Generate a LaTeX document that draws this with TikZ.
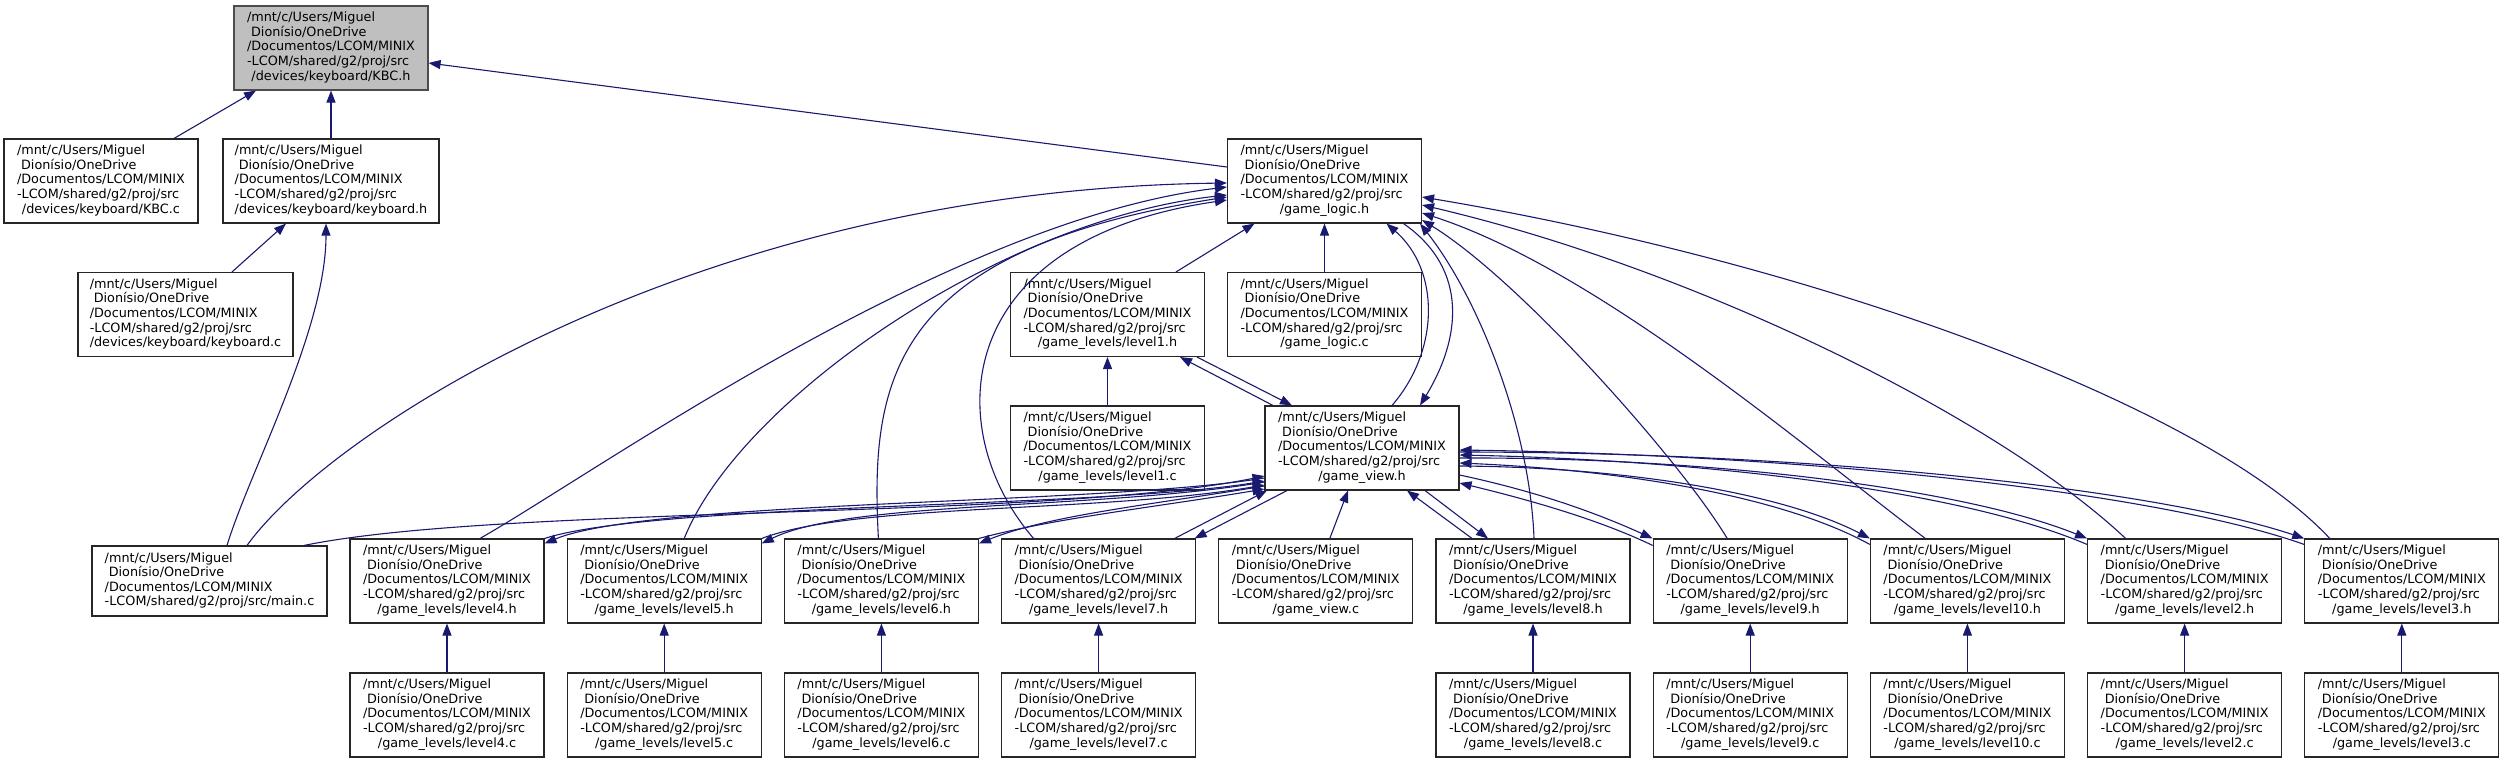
\documentclass[tikz,border=0pt]{standalone}
\usepackage{fontspec}
\setmainfont{DejaVu Sans}
\usetikzlibrary{arrows.meta}
\definecolor{edgec}{HTML}{191970}
\definecolor{rootfill}{HTML}{BFBFBF}
\newcommand{\flbl}[1]{\begin{tabular}{@{}l@{}}/mnt/c/Users/Miguel\\\ Dionísio/OneDrive\\/Documentos/LCOM/MINIX\\-LCOM/shared/g2/proj/src\\\multicolumn{1}{@{}c@{}}{#1}\end{tabular}}
\newcommand{\mlbl}{\begin{tabular}{@{}l@{}}/mnt/c/Users/Miguel\\\ Dionísio/OneDrive\\/Documentos/LCOM/MINIX\\\multicolumn{1}{@{}c@{}}{-LCOM/shared/g2/proj/src/main.c}\end{tabular}}
\begin{document}
\begin{tikzpicture}[x=1pt,y=-1pt,
  box/.style={draw=black!85, line width=1.1pt, fill=white, rectangle, inner sep=0pt,
    minimum width=194pt, minimum height=84pt, font=\fontsize{12.8}{14.6}\selectfont, text=black},
  rootbox/.style={box, fill=rootfill, draw=black!70},
  e/.style={draw=edgec, line width=1.1pt, {Triangle[length=12pt,width=9pt]}-}]
\useasboundingbox (0,0) rectangle (2505,763);
% nodes
\node[rootbox] (kbch) at (331,48) {\flbl{/devices/keyboard/KBC.h}};
\node[box] (kbcc) at (101,181) {\flbl{/devices/keyboard/KBC.c}};
\node[box, minimum width=216pt] (kbh) at (331,181) {\flbl{/devices/keyboard/keyboard.h}};
\node[box] (gl) at (1324.5,181) {\flbl{/game\_logic.h}};
\node[box, minimum width=215pt] (kbc) at (185.5,314.5) {\flbl{/devices/keyboard/keyboard.c}};
\node[box] (l1h) at (1107.5,314.5) {\flbl{/game\_levels/level1.h}};
\node[box] (glc) at (1324.5,314.5) {\flbl{/game\_logic.c}};
\node[box] (l1c) at (1107.5,448) {\flbl{/game\_levels/level1.c}};
\node[box] (gv) at (1362,448) {\flbl{/game\_view.h}};
\node[box, minimum width=235pt, minimum height=70pt] (mainc) at (209.5,581) {\mlbl};
\node[box] (l4h) at (447,581) {\flbl{/game\_levels/level4.h}};
\node[box] (l5h) at (664.2,581) {\flbl{/game\_levels/level5.h}};
\node[box] (l6h) at (881.4,581) {\flbl{/game\_levels/level6.h}};
\node[box] (l7h) at (1098.6,581) {\flbl{/game\_levels/level7.h}};
\node[box] (gvc) at (1315.8,581) {\flbl{/game\_view.c}};
\node[box] (l8h) at (1533,581) {\flbl{/game\_levels/level8.h}};
\node[box] (l9h) at (1750.2,581) {\flbl{/game\_levels/level9.h}};
\node[box] (l10h) at (1967.4,581) {\flbl{/game\_levels/level10.h}};
\node[box] (l2h) at (2184.6,581) {\flbl{/game\_levels/level2.h}};
\node[box] (l3h) at (2401.8,581) {\flbl{/game\_levels/level3.h}};
\node[box] (l4c) at (447,715) {\flbl{/game\_levels/level4.c}};
\node[box] (l5c) at (664.2,715) {\flbl{/game\_levels/level5.c}};
\node[box] (l6c) at (881.4,715) {\flbl{/game\_levels/level6.c}};
\node[box] (l7c) at (1098.6,715) {\flbl{/game\_levels/level7.c}};
\node[box] (l8c) at (1533,715) {\flbl{/game\_levels/level8.c}};
\node[box] (l9c) at (1750.2,715) {\flbl{/game\_levels/level9.c}};
\node[box] (l10c) at (1967.4,715) {\flbl{/game\_levels/level10.c}};
\node[box] (l2c) at (2184.6,715) {\flbl{/game\_levels/level2.c}};
\node[box] (l3c) at (2401.8,715) {\flbl{/game\_levels/level3.c}};
% KBC.h
\draw[e] ([xshift=-75pt]kbch.south) -- ([xshift=73pt]kbcc.north);
\draw[e] (kbch.south) -- (kbh.north);
\draw[e] ([yshift=-15pt]kbch.east) -- ([yshift=14pt]gl.west);
% keyboard.h
\draw[e] ([xshift=-45pt]kbh.south) -- ([xshift=46.5pt]kbc.north);
\draw[e] ([xshift=-5pt]kbh.south) .. controls (326,330) and (250,470) .. ([xshift=17.5pt]mainc.north);
% game_logic.h left
\draw[e] ([yshift=-2pt]gl.west) .. controls (700,190) and (330,430) .. ([xshift=37.5pt]mainc.north);
\draw[e] ([yshift=-6pt]gl.west) .. controls (950,220) and (600,470) .. ([xshift=33pt]l4h.north);
\draw[e] ([yshift=-14pt]gl.west) .. controls (1000,220) and (740,400) .. ([xshift=20pt]l5h.north);
\draw[e] ([yshift=-16pt]gl.west) .. controls (890,250) and (870,380) .. ([xshift=-3pt]l6h.north);
\draw[e] ([yshift=-19pt]gl.west) .. controls (950,240) and (940,430) .. ([xshift=-65pt]l7h.north);
% game_logic.h below
\draw[e] ([xshift=-70pt]gl.south) -- ([xshift=68.5pt]l1h.north);
\draw[e] (gl.south) -- (glc.north);
\draw[e] ([xshift=62pt]gl.south) .. controls (1440,270) and (1440,350) .. ([xshift=30pt]gv.north);
\draw[e] ([xshift=58pt]gv.north) .. controls (1460,340) and (1470,270) .. ([xshift=79pt]gl.south);
% game_logic.h right
\draw[e] ([yshift=-16pt]gl.east) .. controls (1800,260) and (2200,400) .. ([xshift=-72pt]l3h.north);
\draw[e] ([yshift=-24pt]gl.east) .. controls (1700,270) and (2000,420) .. ([xshift=-59pt]l2h.north);
\draw[e] ([yshift=-32pt]gl.east) .. controls (1600,270) and (1820,460) .. ([xshift=-42pt]l10h.north);
\draw[e] ([yshift=-39pt]gl.east) .. controls (1520,280) and (1680,460) .. ([xshift=-23pt]l9h.north);
\draw[e] ([xshift=-2pt]gl.south east) .. controls (1480,300) and (1530,430) .. ([xshift=1pt]l8h.north);
% level1.h
\draw[e] ([xshift=72.5pt]l1h.south) -- ([xshift=-89pt]gv.north);
\draw[e] ([xshift=-70pt]gv.north) -- ([xshift=89.5pt]l1h.south);
\draw[e] (l1h.south) -- (l1c.north);
% game_view.h left
\draw[e] ([yshift=-28pt]gv.west) .. controls (1050,520) and (500,505) .. ([xshift=94.5pt]mainc.north);
\draw[e] ([yshift=-5pt]l4h.north east) .. controls (650,500) and (1100,505) .. ([yshift=-30pt]gv.west);
\draw[e] ([yshift=-33pt]gv.west) .. controls (1100,508) and (655,503) .. (l4h.north east);
\draw[e] ([yshift=-5pt]l5h.north east) .. controls (850,500) and (1100,510) .. ([yshift=-34pt]gv.west);
\draw[e] ([yshift=-37pt]gv.west) .. controls (1100,513) and (855,503) .. (l5h.north east);
\draw[e] ([yshift=-5pt]l6h.north east) .. controls (1050,515) and (1150,505) .. ([yshift=-38pt]gv.west);
\draw[e] ([yshift=-41pt]gv.west) .. controls (1150,508) and (1055,518) .. (l6h.north east);
% game_view.h below
\draw[e] ([xshift=-95pt]gv.south) -- ([xshift=76pt]l7h.north);
\draw[e] ([xshift=96pt]l7h.north) -- ([xshift=-75pt]gv.south);
\draw[e] ([xshift=-14pt]gv.south) -- ([xshift=14pt]gvc.north);
\draw[e] ([xshift=45pt]gv.south) -- ([xshift=-61pt]l8h.north);
\draw[e] ([xshift=-45pt]l8h.north) -- ([xshift=63pt]gv.south);
% game_view.h right
\draw[e] ([yshift=-35pt]gv.east) .. controls (1530,500) and (1600,520) .. ([yshift=-7pt]l9h.north west);
\draw[e] (l9h.north west) .. controls (1590,510) and (1530,490) .. ([yshift=-27pt]gv.east);
\draw[e] ([yshift=-15pt]gv.east) .. controls (1620,470) and (1780,495) .. ([yshift=-6pt]l10h.north west);
\draw[e] (l10h.north west) .. controls (1780,492) and (1620,467) .. ([yshift=-18pt]gv.east);
\draw[e] ([yshift=-7pt]gv.east) .. controls (1700,460) and (1960,490) .. ([yshift=-6pt]l2h.north west);
\draw[e] (l2h.north west) .. controls (1960,487) and (1700,457) .. ([yshift=-10pt]gv.east);
\draw[e] ([yshift=-2pt]gv.east) .. controls (1800,455) and (2150,490) .. ([yshift=-6pt]l3h.north west);
\draw[e] (l3h.north west) .. controls (2150,487) and (1800,452) .. ([yshift=-4pt]gv.east);
% .c files
\draw[e] (l4h.south) -- (l4c.north);
\draw[e] (l5h.south) -- (l5c.north);
\draw[e] (l6h.south) -- (l6c.north);
\draw[e] (l7h.south) -- (l7c.north);
\draw[e] (l8h.south) -- (l8c.north);
\draw[e] (l9h.south) -- (l9c.north);
\draw[e] (l10h.south) -- (l10c.north);
\draw[e] (l2h.south) -- (l2c.north);
\draw[e] (l3h.south) -- (l3c.north);
\end{tikzpicture}
\end{document}
